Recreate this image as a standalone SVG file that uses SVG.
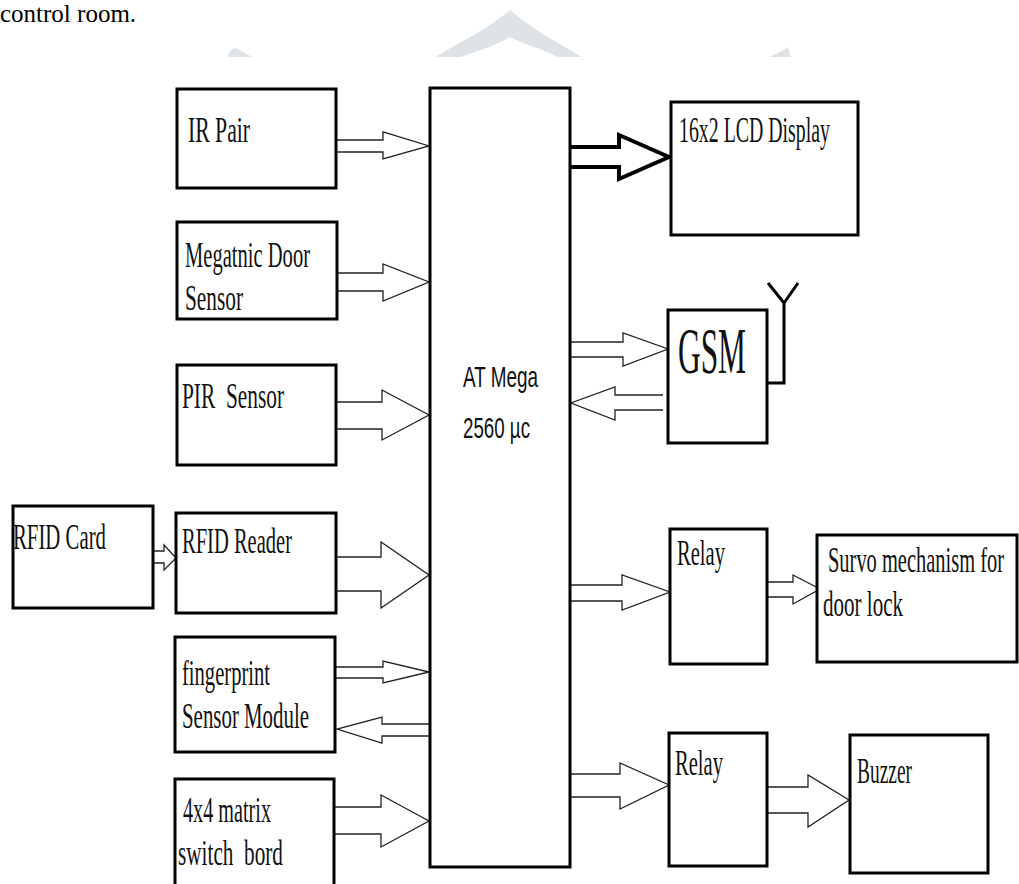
<svg xmlns="http://www.w3.org/2000/svg" width="1019" height="884" viewBox="0 0 1019 884">
<style>
.box{fill:#fff;stroke:#000;stroke-width:3}
.ar{fill:#fff;stroke:#222;stroke-width:1.3;stroke-linejoin:miter}
.t{font-family:"Liberation Serif","Times New Roman",serif;font-size:35px;fill:#111}
.g{font-family:"Liberation Serif","Times New Roman",serif;font-size:66px;fill:#111}
.s{font-family:"Liberation Sans",Arial,sans-serif;font-size:30px;fill:#111}
.wm{fill:#dde3e7}
</style>
<rect width="1019" height="884" fill="#fff"/>
<text x="0" y="22" font-family="Liberation Serif, serif" font-size="25" fill="#000">control room.</text>
<g id="watermark">
<path class="wm" d="M228,57 C229,52 232,48 236,48 L252,57 Z"/>
<path class="wm" d="M435,57 C460,42 490,28 510,10 C530,28 560,44 582,57 L558,57 C540,48 525,45 510,37 C497,45 480,50 461,57 Z"/>
<path class="wm" d="M769,57 C778,53 784,50 788,47 L791,57 Z"/>
</g>
<g id="connectors">
<path class="ar" d="M336,140 H383 V132 L429,146 L383,159 V152 H336"/>
<path class="ar" d="M337,273 H383 V264 L429,282 L383,301 V291 H337"/>
<path class="ar" d="M336,402 H382 V390 L429,415 L382,440 V429 H336"/>
<path class="ar" d="M153,551 H164 V545 L176,558 L164,570 V563 H153"/>
<path class="ar" d="M336,557 H381 V542 L429,575 L381,608 V591 H336"/>
<path class="ar" d="M335,667 H383 V661 L429,672 L383,683 V678 H335"/>
<path class="ar" d="M430,724 H382 V717 L337,729 L382,743 V736 H430"/>
<path class="ar" d="M334,807 H381 V795 L429,821 L381,847 V834 H334"/>
<path fill="#fff" stroke="#000" stroke-width="4" d="M570,147 H619 V135 L669,157 L619,179 V167 H570"/>
<path class="ar" d="M570,342 H623 V333 L668,349 L623,366 V357 H570"/>
<path class="ar" d="M663,395 H615 V387 L571,403 L615,420 V410 H663"/>
<path class="ar" d="M570,585 H622 V575 L670,592 L622,610 V601 H570"/>
<path class="ar" d="M767,582 H793 V575 L820,589 L793,604 V597 H767"/>
<path class="ar" d="M570,774 H620 V763 L669,785 L620,809 V797 H570"/>
<path class="ar" d="M767,787 H808 V775 L849,800 L808,827 V813 H767"/>
</g>
<g id="ir-pair">
<rect class="box" x="177" y="89" width="159" height="99"/>
<text class="t" x="188" y="142" textLength="62" lengthAdjust="spacingAndGlyphs">IR Pair</text>
</g>
<g id="door-sensor">
<rect class="box" x="177" y="222" width="160" height="97"/>
<text class="t" x="185" y="267" textLength="125" lengthAdjust="spacingAndGlyphs">Megatnic Door</text>
<text class="t" x="185" y="310" textLength="58" lengthAdjust="spacingAndGlyphs">Sensor</text>
</g>
<g id="pir-sensor">
<rect class="box" x="177" y="365" width="159" height="100"/>
<text class="t" x="182" y="408" textLength="102" lengthAdjust="spacingAndGlyphs" xml:space="preserve">PIR  Sensor</text>
</g>
<g id="rfid-card">
<rect class="box" x="13" y="506" width="140" height="102"/>
<text class="t" x="13" y="549" textLength="93" lengthAdjust="spacingAndGlyphs">RFID Card</text>
</g>
<g id="rfid-reader">
<rect class="box" x="176" y="513" width="160" height="100"/>
<text class="t" x="182" y="553" textLength="110" lengthAdjust="spacingAndGlyphs">RFID Reader</text>
</g>
<g id="fingerprint">
<rect class="box" x="175" y="637" width="160" height="115"/>
<text class="t" x="182" y="685" textLength="88" lengthAdjust="spacingAndGlyphs">fingerprint</text>
<text class="t" x="182" y="728" textLength="127" lengthAdjust="spacingAndGlyphs">Sensor Module</text>
</g>
<g id="matrix">
<rect class="box" x="175" y="779" width="159" height="110"/>
<text class="t" x="183" y="822" textLength="88" lengthAdjust="spacingAndGlyphs">4x4 matrix</text>
<text class="t" x="178" y="865" textLength="105" lengthAdjust="spacingAndGlyphs" xml:space="preserve">switch  bord</text>
</g>
<g id="atmega">
<rect class="box" x="430" y="88" width="140" height="779"/>
<text class="s" x="463" y="387" textLength="75" lengthAdjust="spacingAndGlyphs">AT Mega</text>
<text class="s" x="463" y="438" textLength="67" lengthAdjust="spacingAndGlyphs">2560 µc</text>
</g>
<g id="lcd">
<rect class="box" x="671" y="102" width="187" height="133"/>
<text class="t" x="679" y="142" textLength="151" lengthAdjust="spacingAndGlyphs">16x2 LCD Display</text>
</g>
<g id="gsm">
<rect class="box" x="668" y="310" width="99" height="133"/>
<text class="g" x="678" y="373" textLength="68" lengthAdjust="spacingAndGlyphs">GSM</text>
<path d="M767,383 H784 V303 M768,283 L784,303 L798,283" fill="none" stroke="#000" stroke-width="3"/>
</g>
<g id="relay1">
<rect class="box" x="670" y="529" width="97" height="135"/>
<text class="t" x="677" y="565" textLength="48" lengthAdjust="spacingAndGlyphs">Relay</text>
</g>
<g id="survo">
<rect class="box" x="817" y="535" width="200" height="127"/>
<text class="t" x="828" y="572" textLength="176" lengthAdjust="spacingAndGlyphs">Survo mechanism for</text>
<text class="t" x="823" y="616" textLength="80" lengthAdjust="spacingAndGlyphs">door lock</text>
</g>
<g id="relay2">
<rect class="box" x="669" y="733" width="98" height="133"/>
<text class="t" x="675" y="775" textLength="48" lengthAdjust="spacingAndGlyphs">Relay</text>
</g>
<g id="buzzer">
<rect class="box" x="850" y="735" width="138" height="138"/>
<text class="t" x="857" y="783" textLength="55" lengthAdjust="spacingAndGlyphs">Buzzer</text>
</g>
</svg>
